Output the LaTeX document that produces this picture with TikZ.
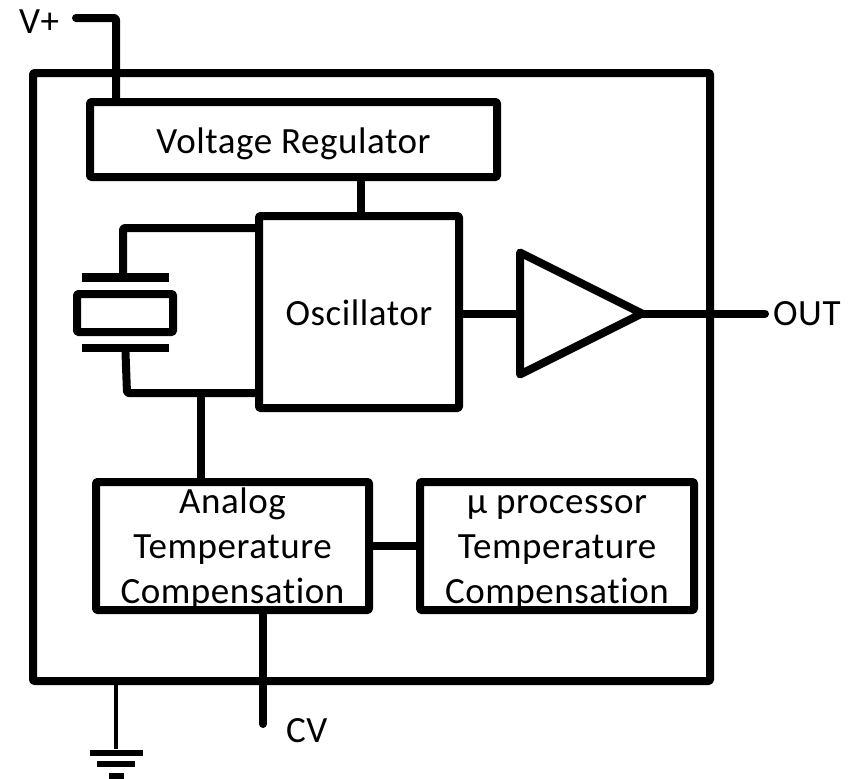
\documentclass[tikz,border=0pt]{standalone}
\usepackage{fontspec}
\setmainfont[Ligatures=NoCommon, LetterSpace=1.5]{Carlito}
\usepackage{tikz}
\usetikzlibrary{calc, shapes.geometric}
\definecolor{wireInk}{HTML}{000000}

\begin{document}
\begin{tikzpicture}[
  x=1pt, y=-1pt,
  line join=round,
  font=\fontsize{37}{45}\selectfont,
  blk/.style={draw=wireInk, line width=8pt, rounded corners=1pt, align=center,
              inner sep=0pt, fill=white},
  onel/.style={text height=33pt, text depth=6pt},
  tri/.style={draw=wireInk, line width=8pt, isosceles triangle, isosceles triangle stretches,
              inner sep=0pt, outer sep=0pt, minimum width=122pt, minimum height=122pt},
  plate/.style={fill=wireInk, inner sep=0pt, minimum width=87pt, minimum height=8.5pt},
  gnd/.style={fill=wireInk, inner sep=0pt},
  wire/.style={draw=wireInk, line width=8pt, line cap=round, rounded corners=2pt},
  thinwire/.style={draw=wireInk, line width=4.5pt},
  lbl/.style={inner sep=0pt, anchor=west},
]
\useasboundingbox (0,0) rectangle (852,779);

% ======================= package and supply ==============================
\node[blk, minimum width=677pt, minimum height=608pt] (chip) at (371.5,377) {};
\node[blk, onel, minimum width=407pt, minimum height=75pt] (vreg) at (293.5,139.5) {Voltage Regulator};
\node[lbl] (vplus) at (19,22) {V+};
\coordinate (vstart) at (76,18);
\coordinate (vcorner) at (116,18);
\draw[wire] (vstart) -- (vcorner) -- (vcorner |- vreg.north);

% ======================= oscillator and output ===========================
\node[blk, onel, minimum width=200pt, minimum height=192pt] (osc) at (359,312) {Oscillator};
\coordinate (feed) at (361,200);
\draw[wire] (feed |- osc.north) -- (feed |- vreg.south);
\node[tri, anchor=lower side] (amp) at (520,313.5) {};
\node[lbl] (out) at (773,314) {OUT};
\coordinate (outend) at (765,313.5);
\draw[wire] (osc.east |- amp.lower side) -- (amp.lower side);
\draw[wire] (amp.apex) -- (outend);

% ======================= crystal =========================================
\node[blk, minimum width=96pt, minimum height=38pt] (xtal) at (125,313) {};
\node[plate] (xtop) at (125.5,277.5) {};
\node[plate] (xbot) at (125.5,348) {};
\coordinate (xtopc) at (123,228);
\coordinate (xbotc) at (127,393);
\coordinate (tap) at (201,393);
\draw[wire] (xtop.north -| xtopc) -- (xtopc) -- (xtopc -| osc.west);
\draw[wire] (xbot.south) -- (xbotc) -- (xbotc -| osc.west);

% ======================= compensation ====================================
\node[blk, minimum width=273pt, minimum height=128pt] (analog) at (232.5,546)
  {\strut Analog\\Temperature\\Compensation};
\node[blk, minimum width=274pt, minimum height=128pt] (micro) at (557,546)
  {\strut µ processor\\Temperature\\Compensation};
\draw[wire] (tap) -- (tap |- analog.north);
\draw[wire] (analog) -- (micro);
\coordinate (cvend) at (263,724);
\node[lbl] (cv) at (286,731) {CV};
\draw[wire] (cvend |- analog.south) -- (cvend);

% ======================= ground ==========================================
\node[gnd, minimum width=53pt, minimum height=6pt] (gnd1) at (116,752.5) {};
\node[gnd, minimum width=38pt, minimum height=6pt] (gnd2) at (116,764) {};
\node[gnd, minimum width=15pt, minimum height=6pt] (gnd3) at (116,776) {};
\draw[thinwire] (gnd1.north |- chip.south) -- (gnd1.north);
\end{tikzpicture}
\end{document}
